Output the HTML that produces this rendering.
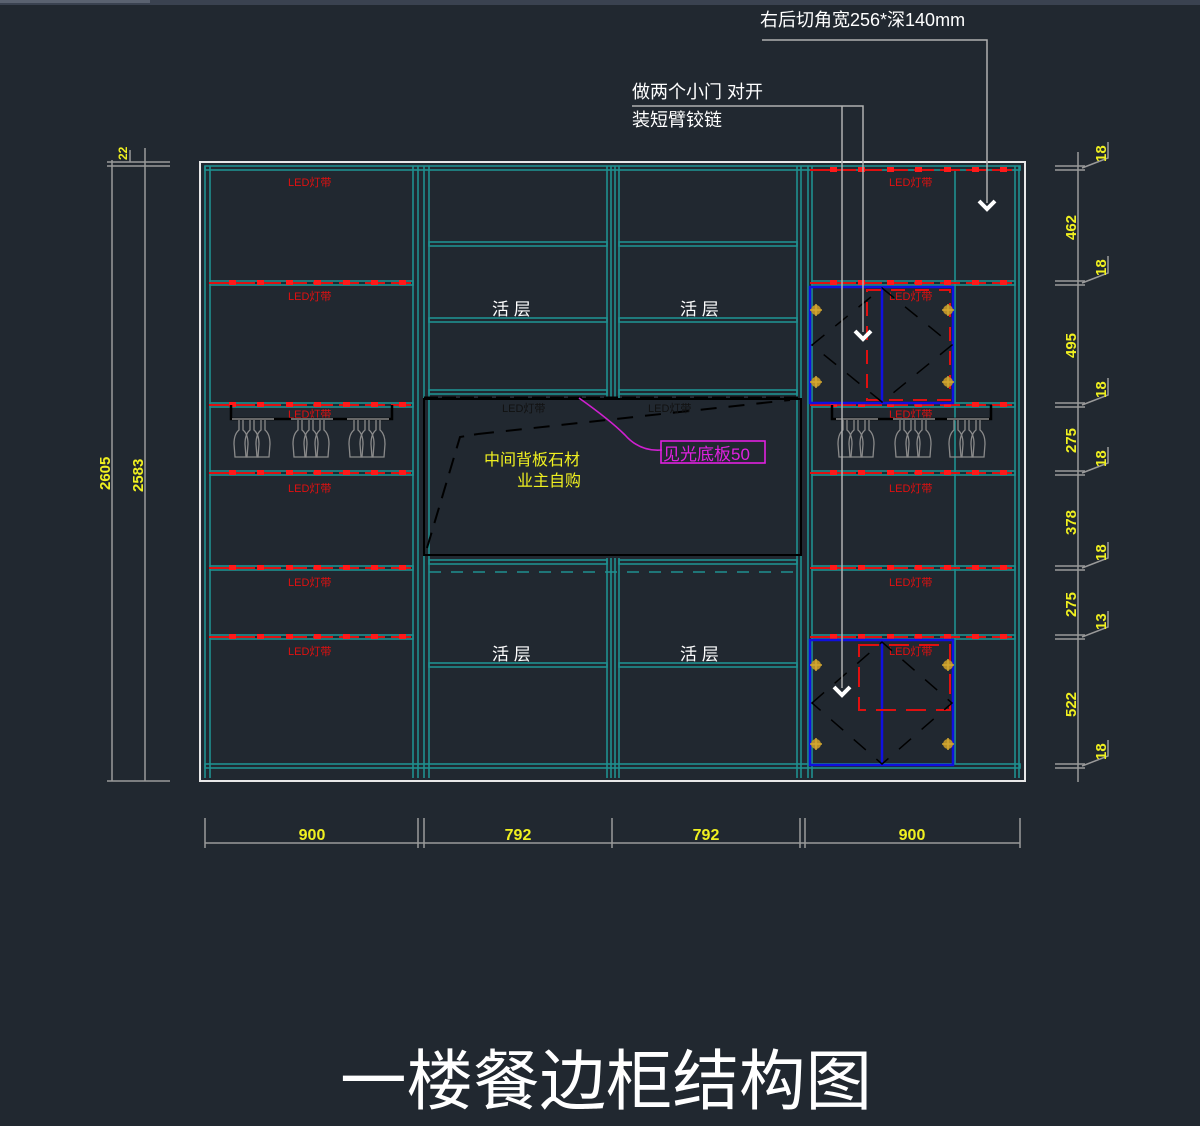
<!DOCTYPE html>
<html><head><meta charset="utf-8"><style>
html,body{margin:0;padding:0;background:#212830;}
svg{display:block}
text{font-family:"Liberation Sans","Noto Sans CJK SC",sans-serif}
</style></head><body>
<svg width="1200" height="1126" viewBox="0 0 1200 1126" xmlns="http://www.w3.org/2000/svg">
<defs>
<g id="gl" fill="none" stroke="#8a8a8a" stroke-width="1.3">
<path d="M-2,0 L-2,10 Q-7,14 -7,24 L-6,37 L6,37 L7,24 Q7,14 2,10 L2,0"/>
</g>
<g id="glass3">
<line x1="-9" y1="419" x2="33" y2="419" stroke="#8a8a8a" stroke-width="1.5"/>
<use href="#gl" x="0" y="420"/><use href="#gl" x="11" y="420"/><use href="#gl" x="22" y="420"/>
</g>
<g id="led">
<line x1="0" y1="0" x2="206" y2="0" stroke="#e01010" stroke-width="2" stroke-dasharray="20,6"/>
<g fill="#ff1a1a"><rect x="20" y="-3" width="7" height="5"/><rect x="48" y="-3" width="7" height="5"/><rect x="77" y="-3" width="7" height="5"/><rect x="105" y="-3" width="7" height="5"/><rect x="134" y="-3" width="7" height="5"/><rect x="162" y="-3" width="7" height="5"/><rect x="190" y="-3" width="7" height="5"/></g>
</g>
<g id="chev"><path d="M-8,-5 L0,3 L8,-5" fill="none" stroke="#fff" stroke-width="4"/></g>
<g id="hinge"><circle r="5" fill="#b8902a"/><path d="M-6,0 H6 M0,-6 V6" stroke="#d4a830" stroke-width="1.5"/></g>
</defs>

<rect x="0" y="0" width="1200" height="5" fill="#3a4250"/>
<rect x="0" y="0" width="150" height="3" fill="#5a6270"/>

<!-- outer frame -->
<rect x="200" y="162" width="825" height="619" fill="none" stroke="#e8e8e8" stroke-width="2"/>

<g fill="none" stroke="#1f9090" stroke-width="1.6">
<!-- outer inner teal -->
<rect x="205" y="166" width="815" height="4"/>
<rect x="205" y="764" width="815" height="4"/>
<!-- left column verticals -->
<line x1="205" y1="166" x2="205" y2="778"/><line x1="210" y1="166" x2="210" y2="778"/>
<line x1="413" y1="166" x2="413" y2="778"/><line x1="418" y1="166" x2="418" y2="778"/>
<line x1="424" y1="166" x2="424" y2="778"/><line x1="429" y1="166" x2="429" y2="778"/>
<line x1="607" y1="166" x2="607" y2="400"/><line x1="611" y1="166" x2="611" y2="400"/>
<line x1="615" y1="166" x2="615" y2="400"/><line x1="619" y1="166" x2="619" y2="400"/>
<line x1="607" y1="558" x2="607" y2="778"/><line x1="611" y1="558" x2="611" y2="778"/>
<line x1="615" y1="558" x2="615" y2="778"/><line x1="619" y1="558" x2="619" y2="778"/>
<line x1="797" y1="166" x2="797" y2="778"/><line x1="801" y1="166" x2="801" y2="778"/>
<line x1="808" y1="166" x2="808" y2="778"/><line x1="812" y1="166" x2="812" y2="778"/>
<line x1="1015" y1="166" x2="1015" y2="778"/><line x1="1019" y1="166" x2="1019" y2="778"/>
<line x1="955" y1="170" x2="955" y2="764"/>
<!-- left shelves -->
<rect x="210" y="281" width="203" height="4"/><rect x="210" y="403" width="203" height="4"/>
<rect x="210" y="471" width="203" height="4"/><rect x="210" y="566" width="203" height="4"/>
<rect x="210" y="635" width="203" height="4"/>
<!-- right shelves -->
<rect x="812" y="281" width="203" height="4"/><rect x="812" y="403" width="203" height="4"/>
<rect x="812" y="471" width="203" height="4"/><rect x="812" y="566" width="203" height="4"/>
<rect x="812" y="635" width="203" height="4"/>
<!-- middle shelves -->
<rect x="429" y="242" width="178" height="4"/><rect x="619" y="242" width="178" height="4"/>
<rect x="429" y="318" width="178" height="4"/><rect x="619" y="318" width="178" height="4"/>
<rect x="429" y="390" width="178" height="4"/><rect x="619" y="390" width="178" height="4"/>
<rect x="429" y="560" width="178" height="4"/><rect x="619" y="560" width="178" height="4"/>
<rect x="429" y="663" width="178" height="4"/><rect x="619" y="663" width="178" height="4"/>
</g>
<line x1="429" y1="572" x2="797" y2="572" stroke="#1f9090" stroke-width="1.5" stroke-dasharray="12,10"/>

<!-- LED strips -->
<use href="#led" x="209" y="283"/><use href="#led" x="209" y="405"/><use href="#led" x="209" y="473"/>
<use href="#led" x="209" y="568"/><use href="#led" x="209" y="637"/>
<use href="#led" x="810" y="170"/><use href="#led" x="810" y="283"/><use href="#led" x="810" y="405"/><use href="#led" x="810" y="473"/>
<use href="#led" x="810" y="568"/><use href="#led" x="810" y="637"/>

<g fill="#e01010" font-size="11" font-family="Liberation Serif,'Noto Serif CJK SC',serif">
<text x="288" y="186">LED灯带</text><text x="288" y="300">LED灯带</text><text x="288" y="418">LED灯带</text>
<text x="288" y="492">LED灯带</text><text x="288" y="586">LED灯带</text><text x="288" y="655">LED灯带</text>
<text x="889" y="186">LED灯带</text><text x="889" y="300">LED灯带</text><text x="889" y="418">LED灯带</text>
<text x="889" y="492">LED灯带</text><text x="889" y="586">LED灯带</text><text x="889" y="655">LED灯带</text>
</g>

<!-- middle stone panel -->
<rect x="424" y="399" width="377" height="156" fill="none" stroke="#000" stroke-width="2"/>
<line x1="424" y1="398" x2="801" y2="398" stroke="#000" stroke-width="3" stroke-dasharray="14,4"/>
<path d="M427,548 L460,437 L478,434" fill="none" stroke="#000" stroke-width="2" stroke-dasharray="16,10"/>
<path d="M478,434 L790,400" fill="none" stroke="#000" stroke-width="2" stroke-dasharray="16,12"/>
<g fill="#111" font-size="11" font-family="Liberation Serif,serif"><text x="502" y="412">LED灯带</text><text x="648" y="412">LED灯带</text></g>
<text x="484" y="465" fill="#f0f020" font-size="16">中间背板石材</text>
<text x="517" y="486" fill="#f0f020" font-size="16">业主自购</text>
<path d="M579,398 Q610,420 625,435 Q640,452 662,450" fill="none" stroke="#d020d0" stroke-width="1.6"/>
<rect x="661" y="441" width="104" height="22" fill="none" stroke="#e020e0" stroke-width="1.6"/>
<text x="663" y="460" fill="#e020e0" font-size="17">见光底板50</text>

<g fill="#fff" font-size="17"><text x="492" y="315">活 层</text><text x="680" y="315">活 层</text>
<text x="492" y="660">活 层</text><text x="680" y="660">活 层</text></g>

<!-- glass racks -->
<path d="M231,405 V419 H392 V405" fill="none" stroke="#000" stroke-width="2.5"/>
<use href="#glass3" x="241"/><use href="#glass3" x="300"/><use href="#glass3" x="356"/>
<path d="M832,405 V419 H991 V405" fill="none" stroke="#000" stroke-width="2.5"/>
<use href="#glass3" x="845"/><use href="#glass3" x="902"/><use href="#glass3" x="956"/>

<!-- doors -->
<g fill="none">
<rect x="810" y="287" width="143" height="116" stroke="#1010e0" stroke-width="2.5"/>
<line x1="882" y1="287" x2="882" y2="403" stroke="#1010e0" stroke-width="2.5"/>
<path d="M867,290 H950 V400 H867 Z" stroke="#e01010" stroke-width="2" stroke-dasharray="14,10"/>
<path d="M812,345 L882,288 L952,345 L882,402 Z" stroke="#000" stroke-width="1.5" stroke-dasharray="16,14"/>
<rect x="810" y="640" width="143" height="125" stroke="#1010e0" stroke-width="2.5"/>
<line x1="882" y1="640" x2="882" y2="765" stroke="#1010e0" stroke-width="2.5"/>
<path d="M859,645 H950 V710 H859 Z" stroke="#e01010" stroke-width="2" stroke-dasharray="20,10"/>
<path d="M812,703 L882,642 L952,703 L882,764 Z" stroke="#000" stroke-width="1.5" stroke-dasharray="16,14"/>
</g>
<use href="#hinge" x="816" y="310"/><use href="#hinge" x="816" y="382"/><use href="#hinge" x="948" y="310"/><use href="#hinge" x="948" y="382"/>
<use href="#hinge" x="816" y="665"/><use href="#hinge" x="816" y="744"/><use href="#hinge" x="948" y="665"/><use href="#hinge" x="948" y="744"/>

<!-- leaders -->
<g stroke="#b0b0b0" stroke-width="1.5" fill="none">
<polyline points="762,40 987,40 987,203"/>
<polyline points="632,106 863,106 863,332"/>
<line x1="842" y1="106" x2="842" y2="688"/>
</g>
<use href="#chev" x="987" y="206"/><use href="#chev" x="863" y="336"/><use href="#chev" x="842" y="692"/>
<g fill="#fff" font-size="18"><text x="760" y="26">右后切角宽256*深140mm</text>
<text x="632" y="98">做两个小门 对开</text><text x="632" y="126">装短臂铰链</text></g>

<!-- left dims -->
<g stroke="#9a9a9a" stroke-width="1.5">
<line x1="112" y1="160" x2="112" y2="781"/><line x1="145" y1="148" x2="145" y2="781"/>
<line x1="107" y1="162" x2="170" y2="162"/><line x1="107" y1="166" x2="170" y2="166"/>
<line x1="107" y1="781" x2="170" y2="781"/><line x1="130" y1="150" x2="130" y2="162"/>
</g>
<g fill="#f0f020" font-size="15" font-weight="bold" font-family="Liberation Serif,serif">
<text transform="translate(110,490) rotate(-90)">2605</text>
<text transform="translate(143,492) rotate(-90)">2583</text>
<text transform="translate(127,160) rotate(-90)" font-size="12">22</text>
</g>

<!-- right dims -->
<g stroke="#9a9a9a" stroke-width="1.5">
<line x1="1078" y1="152" x2="1078" y2="782"/>
<line x1="1055" y1="166" x2="1085" y2="166"/><line x1="1055" y1="170" x2="1085" y2="170"/>
<line x1="1055" y1="281" x2="1085" y2="281"/><line x1="1055" y1="285" x2="1085" y2="285"/>
<line x1="1055" y1="403" x2="1085" y2="403"/><line x1="1055" y1="407" x2="1085" y2="407"/>
<line x1="1055" y1="471" x2="1085" y2="471"/><line x1="1055" y1="475" x2="1085" y2="475"/>
<line x1="1055" y1="566" x2="1085" y2="566"/><line x1="1055" y1="570" x2="1085" y2="570"/>
<line x1="1055" y1="635" x2="1085" y2="635"/><line x1="1055" y1="639" x2="1085" y2="639"/>
<line x1="1055" y1="764" x2="1085" y2="764"/><line x1="1055" y1="768" x2="1085" y2="768"/>
<polyline points="1082,168 1108,158 1108,142" fill="none"/>
<polyline points="1082,283 1108,273 1108,256" fill="none"/>
<polyline points="1082,405 1108,395 1108,378" fill="none"/>
<polyline points="1082,473 1108,463 1108,447" fill="none"/>
<polyline points="1082,568 1108,558 1108,542" fill="none"/>
<polyline points="1082,637 1108,627 1108,611" fill="none"/>
<polyline points="1082,766 1108,756 1108,740" fill="none"/>
</g>
<g fill="#f0f020" font-size="15" font-weight="bold" font-family="Liberation Serif,serif">
<text transform="translate(1106,162) rotate(-90)">18</text>
<text transform="translate(1076,240) rotate(-90)">462</text>
<text transform="translate(1106,276) rotate(-90)">18</text>
<text transform="translate(1076,358) rotate(-90)">495</text>
<text transform="translate(1106,398) rotate(-90)">18</text>
<text transform="translate(1076,453) rotate(-90)">275</text>
<text transform="translate(1106,467) rotate(-90)">18</text>
<text transform="translate(1076,535) rotate(-90)">378</text>
<text transform="translate(1106,561) rotate(-90)">18</text>
<text transform="translate(1076,617) rotate(-90)">275</text>
<text transform="translate(1106,630) rotate(-90)">13</text>
<text transform="translate(1076,717) rotate(-90)">522</text>
<text transform="translate(1106,760) rotate(-90)">18</text>
</g>

<!-- bottom dims -->
<g stroke="#9a9a9a" stroke-width="1.5">
<line x1="205" y1="843" x2="1020" y2="843"/>
<line x1="205" y1="818" x2="205" y2="848"/><line x1="418" y1="818" x2="418" y2="848"/>
<line x1="424" y1="818" x2="424" y2="848"/><line x1="612" y1="818" x2="612" y2="848"/>
<line x1="800" y1="818" x2="800" y2="848"/><line x1="805" y1="818" x2="805" y2="848"/>
<line x1="1020" y1="818" x2="1020" y2="848"/>
</g>
<g fill="#f0f020" font-size="16" font-weight="bold" font-family="Liberation Serif,serif" text-anchor="middle">
<text x="312" y="840">900</text><text x="518" y="840">792</text><text x="706" y="840">792</text><text x="912" y="840">900</text>
</g>

<text x="340" y="1104" fill="#fff" font-size="66" font-family="'Noto Serif CJK SC',serif" textLength="532" lengthAdjust="spacingAndGlyphs">一楼餐边柜结构图</text>
</svg>
</body></html>
